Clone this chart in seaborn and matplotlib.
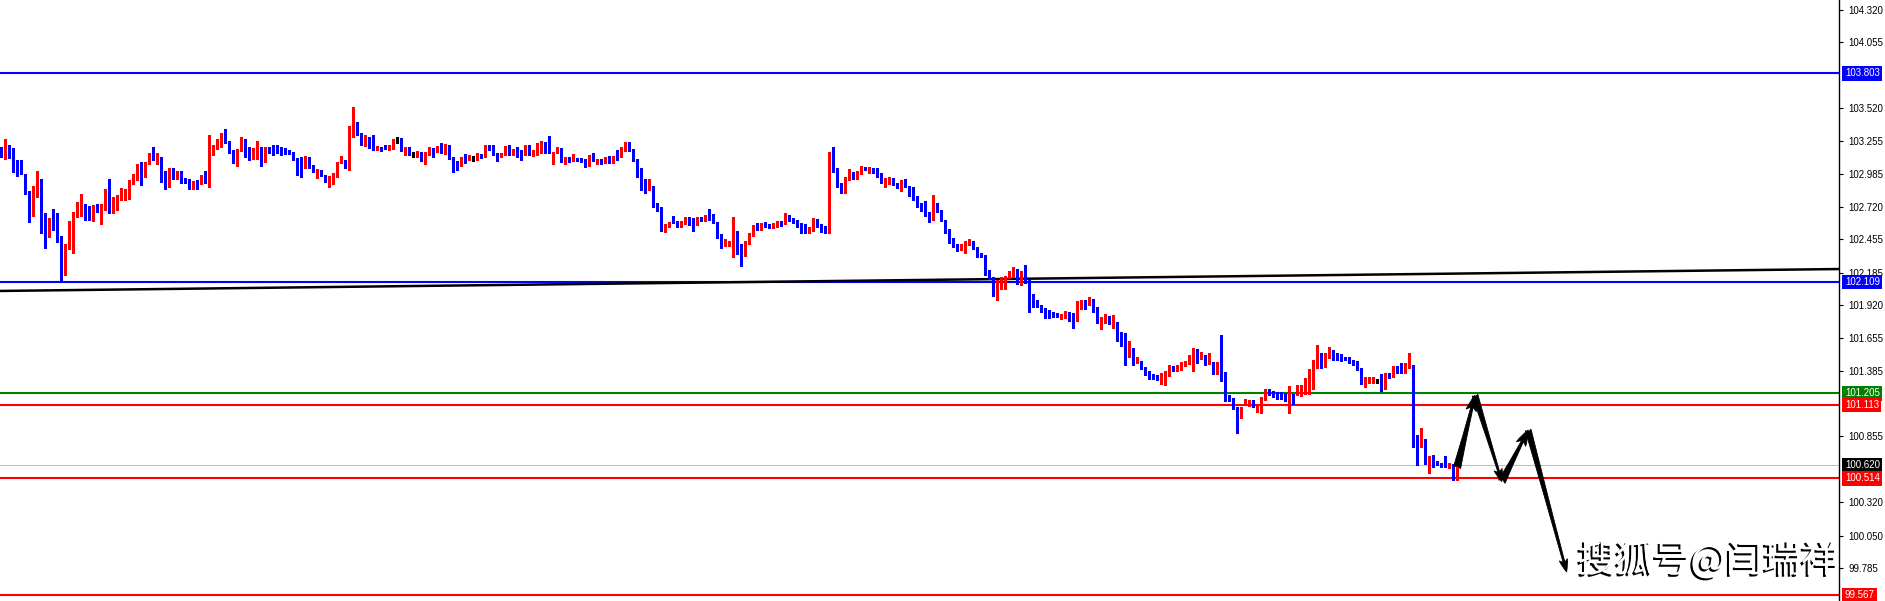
import numpy as np
import pandas as pd
import matplotlib
matplotlib.use("Agg")
import matplotlib.pyplot as plt
import matplotlib.patheffects as pe
import matplotlib.transforms as mtransforms
import seaborn as sns

# velas (precio), una por barra
opens = [
    103.207, 103.126, 103.221, 103.131, 103.094, 103.018, 102.985, 102.850, 102.712, 102.874,
    102.942, 102.671, 102.582, 102.596, 102.579, 102.449, 102.271, 102.376, 102.409, 102.671,
    102.685, 102.712, 102.666, 102.612, 102.720, 102.674, 102.725, 102.855, 102.671, 102.739,
    102.801, 102.807, 102.855, 102.904, 102.937, 103.002, 102.969, 103.072, 103.131, 103.099,
    103.121, 102.996, 102.882, 102.991, 102.985, 102.996, 102.942, 102.926, 102.877, 102.915,
    102.909, 102.969, 102.909, 103.180, 103.191, 103.213, 103.315, 103.245, 103.180, 103.121,
    103.169, 103.261, 103.180, 103.140, 103.110, 103.202, 103.110, 103.180, 103.175, 103.180,
    103.175, 103.180, 103.164, 103.158, 103.115, 103.094, 103.045, 103.085, 103.050, 103.004,
    103.007, 102.974, 102.920, 102.937, 102.980, 103.072, 103.083, 103.045, 103.370, 103.386,
    103.315, 103.223, 103.267, 103.250, 103.188, 103.196, 103.202, 103.191, 103.191, 103.267,
    103.267, 103.175, 103.194, 103.153, 103.140, 103.158, 103.094, 103.153, 103.180, 103.175,
    103.207, 103.191, 103.213, 103.112, 103.077, 103.056, 103.112, 103.104, 103.110, 103.110,
    103.148, 103.126, 103.213, 103.213, 103.153, 103.140, 103.140, 103.207, 103.158, 103.175,
    103.164, 103.140, 103.186, 103.140, 103.153, 103.158, 103.240, 103.207, 103.158, 103.167,
    103.188, 103.085, 103.121, 103.099, 103.110, 103.107, 103.099, 103.050, 103.131, 103.096,
    103.104, 103.083, 103.115, 103.077, 103.131, 103.126, 103.180, 103.229, 103.180, 103.107,
    103.034, 102.888, 102.877, 102.888, 102.734, 102.720, 102.531, 102.566, 102.604, 102.604,
    102.563, 102.585, 102.639, 102.612, 102.571, 102.633, 102.617, 102.644, 102.625, 102.598,
    102.482, 102.409, 102.417, 102.417, 102.523, 102.363, 102.328, 102.422, 102.490, 102.563,
    102.544, 102.579, 102.574, 102.558, 102.571, 102.590, 102.585, 102.628, 102.617, 102.612,
    102.571, 102.563, 102.515, 102.531, 102.606, 102.569, 102.558, 102.509, 103.107, 103.018,
    102.904, 102.877, 102.953, 102.996, 102.953, 102.991, 103.037, 103.029, 103.034, 103.029,
    102.985, 102.909, 102.909, 102.947, 102.909, 102.882, 102.926, 102.882, 102.864, 102.801,
    102.731, 102.720, 102.677, 102.612, 102.734, 102.693, 102.612, 102.515, 102.441, 102.414,
    102.371, 102.401, 102.417, 102.433, 102.387, 102.336, 102.320, 102.179, 102.147, 102.003,
    102.098, 102.103, 102.147, 102.179, 102.198, 102.111, 102.157, 102.125, 101.949, 101.941,
    101.916, 101.887, 101.870, 101.854, 101.851, 101.835, 101.835, 101.843, 101.832, 101.800,
    101.930, 101.954, 101.925, 101.962, 101.887, 101.768, 101.811, 101.827, 101.778, 101.786,
    101.649, 101.622, 101.502, 101.568, 101.456, 101.470, 101.413, 101.380, 101.353, 101.340,
    101.329, 101.345, 101.351, 101.416, 101.394, 101.399, 101.432, 101.448, 101.489, 101.551,
    101.511, 101.516, 101.443, 101.462, 101.372, 101.459, 101.380, 101.191, 101.170, 101.092,
    101.008, 101.119, 101.143, 101.151, 101.062, 101.097, 101.159, 101.232, 101.205, 101.200,
    101.200, 101.197, 101.146, 101.194, 101.191, 101.194, 101.200, 101.200, 101.237, 101.408,
    101.448, 101.435, 101.497, 101.551, 101.519, 101.516, 101.497, 101.489, 101.462, 101.440,
    101.408, 101.286, 101.313, 101.291, 101.307, 101.353, 101.245, 101.361, 101.340, 101.413,
    101.421, 101.380, 101.408, 101.426, 100.867, 100.815, 100.832, 100.637, 100.696, 100.650,
    100.637, 100.629, 100.618, 100.632, 100.529,
]
closes = [
    103.121, 103.226, 103.126, 103.077, 103.053, 102.985, 102.836, 102.712, 102.882, 102.937,
    102.671, 102.579, 102.596, 102.574, 102.444, 102.271, 102.417, 102.417, 102.680, 102.693,
    102.709, 102.666, 102.612, 102.720, 102.677, 102.731, 102.855, 102.671, 102.734, 102.807,
    102.817, 102.861, 102.926, 102.942, 102.996, 102.969, 103.083, 103.137, 103.099, 103.126,
    102.985, 102.877, 102.996, 102.980, 102.996, 102.937, 102.920, 102.872, 102.915, 102.904,
    102.969, 102.909, 103.186, 103.196, 103.213, 103.315, 103.234, 103.158, 103.121, 103.180,
    103.261, 103.180, 103.140, 103.186, 103.207, 103.126, 103.202, 103.167, 103.169, 103.169,
    103.167, 103.158, 103.158, 103.110, 103.088, 103.045, 103.083, 103.045, 103.007, 103.012,
    102.974, 102.920, 102.947, 102.985, 103.077, 103.088, 103.037, 103.375, 103.386, 103.305,
    103.223, 103.267, 103.245, 103.191, 103.199, 103.191, 103.191, 103.213, 103.267, 103.267,
    103.175, 103.199, 103.140, 103.153, 103.158, 103.094, 103.158, 103.180, 103.167, 103.207,
    103.194, 103.207, 103.112, 103.072, 103.056, 103.121, 103.104, 103.112, 103.110, 103.140,
    103.121, 103.207, 103.191, 103.140, 103.140, 103.153, 103.207, 103.148, 103.175, 103.158,
    103.148, 103.186, 103.140, 103.164, 103.234, 103.240, 103.202, 103.153, 103.167, 103.194,
    103.085, 103.112, 103.094, 103.110, 103.099, 103.088, 103.050, 103.131, 103.094, 103.102,
    103.096, 103.110, 103.077, 103.131, 103.121, 103.191, 103.221, 103.180, 103.099, 103.029,
    102.882, 102.877, 102.890, 102.725, 102.715, 102.531, 102.571, 102.598, 102.590, 102.563,
    102.596, 102.639, 102.606, 102.571, 102.625, 102.612, 102.647, 102.617, 102.585, 102.471,
    102.409, 102.428, 102.436, 102.523, 102.355, 102.328, 102.436, 102.490, 102.563, 102.539,
    102.585, 102.569, 102.558, 102.574, 102.590, 102.577, 102.628, 102.606, 102.590, 102.558,
    102.531, 102.509, 102.542, 102.606, 102.558, 102.552, 102.515, 103.107, 103.010, 102.896,
    102.874, 102.958, 102.996, 102.947, 103.002, 103.037, 103.023, 103.037, 103.026, 102.980,
    102.915, 102.942, 102.947, 102.901, 102.882, 102.926, 102.882, 102.855, 102.782, 102.725,
    102.707, 102.671, 102.606, 102.734, 102.685, 102.606, 102.509, 102.431, 102.409, 102.382,
    102.409, 102.428, 102.433, 102.379, 102.320, 102.314, 102.171, 102.139, 102.003, 102.103,
    102.111, 102.152, 102.193, 102.206, 102.098, 102.157, 102.103, 101.941, 101.941, 101.908,
    101.873, 101.860, 101.854, 101.841, 101.838, 101.841, 101.841, 101.827, 101.800, 101.935,
    101.954, 101.922, 101.954, 101.881, 101.778, 101.816, 101.827, 101.778, 101.789, 101.638,
    101.611, 101.502, 101.562, 101.470, 101.467, 101.405, 101.372, 101.334, 101.329, 101.324,
    101.361, 101.361, 101.405, 101.394, 101.426, 101.443, 101.459, 101.494, 101.546, 101.502,
    101.516, 101.443, 101.508, 101.383, 101.462, 101.361, 101.151, 101.156, 101.081, 101.008,
    101.097, 101.146, 101.151, 101.102, 101.102, 101.164, 101.232, 101.200, 101.181, 101.167,
    101.178, 101.146, 101.200, 101.191, 101.200, 101.205, 101.254, 101.280, 101.421, 101.448,
    101.440, 101.497, 101.551, 101.483, 101.483, 101.481, 101.481, 101.454, 101.440, 101.394,
    101.286, 101.326, 101.332, 101.329, 101.307, 101.245, 101.372, 101.340, 101.408, 101.378,
    101.380, 101.416, 101.421, 100.859, 100.821, 100.826, 100.637, 100.691, 100.642, 100.632,
    100.615, 100.621, 100.637, 100.543, 100.620,
]
highs = [
    103.207, 103.269, 103.221, 103.199, 103.099, 103.099, 102.985, 102.850, 102.888, 103.010,
    102.945, 102.671, 102.631, 102.701, 102.666, 102.482, 102.417, 102.606, 102.680, 102.761,
    102.823, 102.742, 102.725, 102.734, 102.739, 102.742, 102.861, 102.945, 102.796, 102.812,
    102.872, 102.861, 102.937, 102.985, 103.066, 103.083, 103.083, 103.158, 103.207, 103.153,
    103.121, 103.012, 103.031, 103.037, 103.012, 103.007, 102.953, 102.942, 102.931, 102.937,
    102.974, 103.007, 103.305, 103.223, 103.267, 103.315, 103.348, 103.256, 103.180, 103.186,
    103.288, 103.272, 103.202, 103.196, 103.256, 103.202, 103.207, 103.202, 103.221, 103.218,
    103.202, 103.196, 103.180, 103.164, 103.115, 103.121, 103.131, 103.121, 103.061, 103.023,
    103.018, 102.980, 102.969, 102.996, 103.083, 103.131, 103.099, 103.375, 103.532, 103.407,
    103.315, 103.299, 103.283, 103.299, 103.213, 103.207, 103.218, 103.218, 103.272, 103.288,
    103.275, 103.207, 103.207, 103.167, 103.175, 103.164, 103.167, 103.207, 103.194, 103.213,
    103.240, 103.229, 103.223, 103.121, 103.094, 103.126, 103.148, 103.140, 103.131, 103.158,
    103.148, 103.221, 103.221, 103.218, 103.158, 103.158, 103.213, 103.218, 103.186, 103.207,
    103.180, 103.221, 103.221, 103.180, 103.240, 103.256, 103.248, 103.294, 103.167, 103.202,
    103.194, 103.126, 103.126, 103.148, 103.115, 103.112, 103.104, 103.140, 103.158, 103.110,
    103.110, 103.126, 103.131, 103.131, 103.180, 103.202, 103.248, 103.248, 103.186, 103.107,
    103.034, 102.945, 102.945, 102.888, 102.747, 102.720, 102.579, 102.598, 102.644, 102.604,
    102.601, 102.639, 102.639, 102.625, 102.639, 102.639, 102.650, 102.704, 102.658, 102.598,
    102.498, 102.460, 102.444, 102.639, 102.523, 102.417, 102.444, 102.504, 102.571, 102.590,
    102.590, 102.596, 102.579, 102.585, 102.606, 102.606, 102.666, 102.653, 102.625, 102.612,
    102.590, 102.579, 102.552, 102.625, 102.620, 102.579, 102.563, 103.167, 103.207, 103.031,
    102.915, 102.964, 103.023, 103.004, 103.012, 103.050, 103.045, 103.045, 103.037, 103.034,
    102.991, 102.953, 102.958, 102.953, 102.915, 102.937, 102.945, 102.888, 102.877, 102.807,
    102.747, 102.766, 102.677, 102.815, 102.747, 102.693, 102.612, 102.542, 102.468, 102.417,
    102.417, 102.439, 102.455, 102.439, 102.395, 102.347, 102.325, 102.206, 102.152, 102.125,
    102.147, 102.157, 102.201, 102.228, 102.212, 102.195, 102.247, 102.125, 102.011, 101.962,
    101.919, 101.895, 101.881, 101.865, 101.860, 101.849, 101.876, 101.865, 101.854, 101.951,
    101.962, 101.962, 101.984, 101.968, 101.908, 101.822, 101.846, 101.835, 101.841, 101.786,
    101.700, 101.695, 101.627, 101.573, 101.502, 101.470, 101.421, 101.389, 101.361, 101.351,
    101.367, 101.389, 101.432, 101.426, 101.432, 101.459, 101.464, 101.513, 101.570, 101.562,
    101.543, 101.516, 101.535, 101.462, 101.462, 101.678, 101.380, 101.191, 101.170, 101.092,
    101.097, 101.156, 101.151, 101.151, 101.108, 101.173, 101.237, 101.243, 101.227, 101.216,
    101.216, 101.210, 101.264, 101.200, 101.272, 101.272, 101.326, 101.399, 101.475, 101.597,
    101.530, 101.530, 101.584, 101.557, 101.530, 101.524, 101.502, 101.497, 101.475, 101.470,
    101.408, 101.334, 101.340, 101.340, 101.324, 101.361, 101.372, 101.372, 101.426, 101.426,
    101.448, 101.454, 101.535, 101.435, 100.867, 100.924, 100.832, 100.696, 100.704, 100.659,
    100.642, 100.699, 100.637, 100.632, 100.620,
]
lows = [
    103.121, 103.104, 103.112, 103.004, 102.972, 102.985, 102.823, 102.598, 102.647, 102.801,
    102.504, 102.387, 102.477, 102.531, 102.436, 102.125, 102.168, 102.376, 102.341, 102.639,
    102.644, 102.612, 102.612, 102.606, 102.677, 102.579, 102.693, 102.671, 102.671, 102.693,
    102.774, 102.774, 102.780, 102.904, 102.937, 102.893, 102.964, 103.066, 103.099, 103.066,
    102.923, 102.861, 102.882, 102.947, 102.942, 102.915, 102.909, 102.861, 102.866, 102.864,
    102.904, 102.909, 102.877, 103.142, 103.191, 103.207, 103.234, 103.158, 103.077, 103.050,
    103.169, 103.121, 103.099, 103.104, 103.104, 103.053, 103.083, 103.153, 103.142, 103.153,
    103.142, 103.148, 103.148, 103.099, 102.977, 102.964, 103.031, 103.031, 103.002, 102.955,
    102.969, 102.918, 102.882, 102.904, 102.964, 103.072, 103.037, 103.018, 103.288, 103.305,
    103.218, 103.213, 103.196, 103.180, 103.180, 103.175, 103.191, 103.180, 103.186, 103.234,
    103.175, 103.140, 103.140, 103.126, 103.121, 103.094, 103.066, 103.140, 103.126, 103.167,
    103.158, 103.148, 103.104, 103.004, 103.018, 103.050, 103.072, 103.099, 103.094, 103.099,
    103.115, 103.126, 103.180, 103.140, 103.094, 103.126, 103.140, 103.140, 103.140, 103.126,
    103.099, 103.140, 103.140, 103.131, 103.140, 103.153, 103.153, 103.153, 103.066, 103.158,
    103.080, 103.066, 103.085, 103.094, 103.094, 103.083, 103.045, 103.050, 103.094, 103.066,
    103.066, 103.077, 103.072, 103.072, 103.099, 103.126, 103.175, 103.175, 103.094, 102.964,
    102.855, 102.833, 102.855, 102.720, 102.685, 102.525, 102.517, 102.552, 102.585, 102.552,
    102.552, 102.579, 102.571, 102.525, 102.571, 102.606, 102.606, 102.612, 102.585, 102.463,
    102.387, 102.401, 102.401, 102.309, 102.336, 102.241, 102.320, 102.417, 102.485, 102.531,
    102.531, 102.558, 102.550, 102.544, 102.558, 102.563, 102.579, 102.604, 102.585, 102.552,
    102.509, 102.509, 102.509, 102.525, 102.552, 102.517, 102.509, 102.509, 103.004, 102.882,
    102.833, 102.833, 102.937, 102.942, 102.947, 102.985, 103.018, 102.991, 102.991, 102.958,
    102.909, 102.882, 102.904, 102.896, 102.874, 102.850, 102.877, 102.809, 102.774, 102.715,
    102.688, 102.644, 102.596, 102.612, 102.680, 102.601, 102.504, 102.422, 102.395, 102.363,
    102.368, 102.347, 102.412, 102.374, 102.309, 102.309, 102.165, 102.131, 101.995, 101.962,
    102.055, 102.055, 102.139, 102.152, 102.093, 102.084, 102.098, 101.865, 101.908, 101.903,
    101.868, 101.816, 101.816, 101.827, 101.827, 101.811, 101.819, 101.789, 101.735, 101.795,
    101.892, 101.887, 101.919, 101.865, 101.773, 101.730, 101.773, 101.768, 101.735, 101.633,
    101.589, 101.435, 101.497, 101.435, 101.448, 101.399, 101.356, 101.324, 101.324, 101.313,
    101.280, 101.272, 101.345, 101.389, 101.389, 101.394, 101.426, 101.443, 101.389, 101.454,
    101.481, 101.435, 101.443, 101.361, 101.361, 101.307, 101.146, 101.146, 101.075, 100.880,
    101.002, 101.108, 101.102, 101.097, 101.056, 101.043, 101.151, 101.191, 101.173, 101.162,
    101.162, 101.140, 101.043, 101.119, 101.191, 101.183, 101.200, 101.200, 101.237, 101.408,
    101.408, 101.421, 101.489, 101.475, 101.475, 101.470, 101.475, 101.448, 101.432, 101.394,
    101.280, 101.259, 101.286, 101.286, 101.286, 101.227, 101.237, 101.326, 101.334, 101.367,
    101.367, 101.372, 101.408, 100.772, 100.624, 100.772, 100.632, 100.562, 100.610, 100.624,
    100.610, 100.610, 100.597, 100.502, 100.502,
]

# niveles horizontales
level_prices = [103.803, 102.109, 101.205, 101.113, 100.620, 100.514, 99.567]
level_colors = ["#0000FF", "#0000FF", "#008000", "#FF0000", "#C0C0C0", "#FF0000", "#FF0000"]
tag_colors = ["#0000FF", "#0000FF", "#008000", "#FF0000", "#000000", "#FF0000", "#FF0000"]
level_widths = [1.5, 1.5, 1.5, 1.5, 0.8, 1.5, 1.5]

tick_values = [104.320, 104.055, 103.520, 103.255, 102.985, 102.720, 102.455, 102.185,
               101.920, 101.655, 101.385, 100.855, 100.320, 100.050, 99.785]

# linea de tendencia (indice de barra, precio)
trend_idx = [-0.25, 459.5]
trend_price = [102.036, 102.214]

# flechas de proyeccion
arrow_idx = [364.0, 368.5, 375.2, 381.8, 391.4]
arrow_price = [100.600, 101.190, 100.488, 100.907, 99.755]
arrow_scale = [15, 12, 15, 12]

watermark = "搜狐号@闫瑞祥"

sns.set_theme(style="white")
plt.rcParams["font.family"] = ["Liberation Sans", "DejaVu Sans"]

df = pd.DataFrame({"open": opens, "high": highs, "low": lows, "close": closes})
assert len(df.dropna()) == len(opens)
df["idx"] = np.arange(len(df))
df["color"] = np.where(df["close"] > df["open"], "#FF0000",
                       np.where(df["close"] < df["open"], "#0000FF", "#000000"))
df["bottom"] = df[["open", "close"]].min(axis=1)
df["height"] = (df["close"] - df["open"]).abs().clip(lower=0.009)

fig = plt.figure(figsize=(18.85, 6.01), dpi=100)
ax = fig.add_axes([0, 0, 1839 / 1885, 1])

# mechas y cuerpos
ax.vlines(df["idx"], df["low"], df["high"], colors=df["color"], linewidth=0.9,
          antialiased=False, zorder=3)
ax.bar(df["idx"], df["height"], bottom=df["bottom"], width=0.75, color=df["color"],
       linewidth=0, antialiased=False, zorder=4)

for price, col, lw in zip(level_prices, level_colors, level_widths):
    ax.axhline(price, color=col, linewidth=lw, zorder=2)

sns.lineplot(x=trend_idx, y=trend_price, color="black", linewidth=1.8, ax=ax, zorder=2)

for k in range(len(arrow_idx) - 1):
    ax.annotate("", xy=(arrow_idx[k + 1], arrow_price[k + 1]),
                xytext=(arrow_idx[k], arrow_price[k]),
                arrowprops=dict(arrowstyle="fancy,head_length=0.75,head_width=0.5,tail_width=0.35",
                                fc="black", ec="black", lw=0.6, shrinkA=0, shrinkB=0,
                                mutation_scale=arrow_scale[k]),
                zorder=6)

ax.set_xlim(-0.25, 459.5)
ax.set_ylim(99.519, 104.398)
ax.set_xticks([])
ax.set_yticks(tick_values)
ax.set_yticklabels([f"{v:.3f}" for v in tick_values])
ax.yaxis.tick_right()
ax.tick_params(axis="y", right=True, left=False, length=3, width=0.8, pad=4,
               labelsize=7, colors="black")
for side in ["left", "top", "bottom"]:
    ax.spines[side].set_visible(False)
ax.spines["right"].set_color("black")
ax.spines["right"].set_linewidth(1)

# etiquetas de precio de los niveles
trans = mtransforms.blended_transform_factory(ax.transAxes, ax.transData)
for price, col in zip(level_prices, tag_colors):
    ax.text(1.0032, price, f"{price:.3f}", transform=trans, color="white", fontsize=7,
            ha="left", va="center", clip_on=False, zorder=10,
            bbox=dict(boxstyle="square,pad=0.25", fc=col, ec="none"))

ax.text(0.9288, 0.066, watermark, transform=ax.transAxes, fontsize=27, color="white",
        family=["Noto Sans CJK SC", "DejaVu Sans"], ha="center", va="center", zorder=7,
        path_effects=[pe.SimplePatchShadow(offset=(-1.5, -1.5), shadow_rgbFace="black", alpha=1),
                      pe.Normal()])

fig.savefig("out.png", dpi=100)
plt.close(fig)
